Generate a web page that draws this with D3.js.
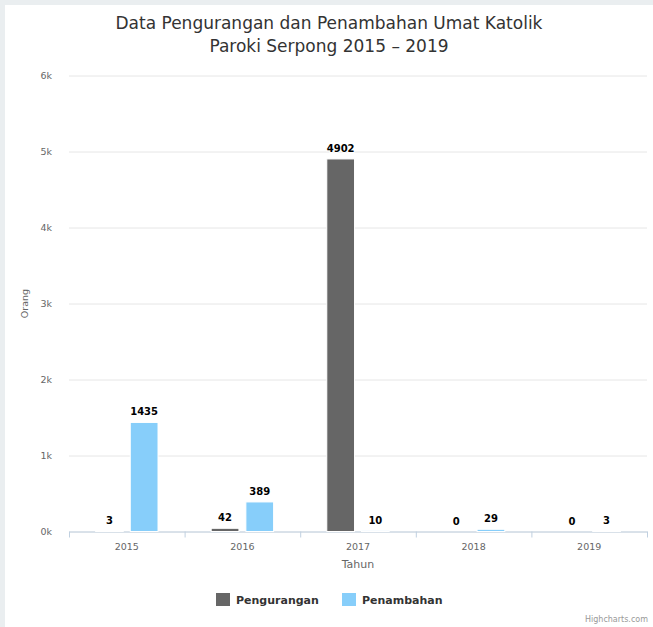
<!DOCTYPE html>
<html>
<head>
<meta charset="utf-8" />
<script src="https://cdn.jsdelivr.net/npm/d3@7"></script>
<style>
  body { margin: 0; background: #eaeef0; }
  svg { display: block; }
  text { font-family: "DejaVu Sans", sans-serif; }
</style>
</head>
<body>
<svg width="653" height="627"></svg>
<script>
var years = ["2015", "2016", "2017", "2018", "2019"];
var pengurangan = [3, 42, 4902, 0, 0];
var penambahan = [1435, 389, 10, 29, 3];
var yTicks = [0, 1000, 2000, 3000, 4000, 5000, 6000];
var seriesNames = ["Pengurangan", "Penambahan"];
var colors = ["#666666", "#87cefa"];

var svg = d3.select("svg");

// white chart panel
svg.append("rect").attr("x", 5).attr("y", 5).attr("width", 648).attr("height", 622).attr("fill", "#fff");

var margin = {left: 69, right: 6, top: 75.5, bottom: 95.5};
var width = 653 - margin.left - margin.right,
    height = 627 - margin.top - margin.bottom;

var x = d3.scaleBand().domain(years).range([0, width]);
var xs = d3.scaleBand().domain([0, 1]).range([0, x.bandwidth()]).paddingInner(0.2).paddingOuter(0.4);
// highcharts-like: groupPadding .2, pointPadding .1
var group = x.bandwidth() * 0.6, slot = group / 2;
var y = d3.scaleLinear().domain([0, 6000]).range([height, 0]);

var g = svg.append("g").attr("transform", "translate(" + margin.left + "," + margin.top + ")");

// grid
g.append("g")
    .call(d3.axisLeft(y).tickValues(yTicks).tickSize(-width).tickFormat(function(d) { return (d / 1000) + "k"; }))
    .call(function(a) {
      a.select(".domain").remove();
      a.selectAll("line").attr("stroke", "#e6e6e6");
      a.selectAll("text").attr("x", -17).attr("dy", "0.32em").attr("fill", "#666").attr("font-size", 9.5).attr("text-anchor", "end");
    });

// x axis
g.append("g")
    .attr("transform", "translate(0," + height + ")")
    .call(d3.axisBottom(x).tickSize(0).tickPadding(12))
    .call(function(a) {
      a.select(".domain").attr("stroke", "#c0d0e0");
      a.selectAll("text").attr("fill", "#666").attr("font-size", 9.5);
    });
g.append("g").selectAll("line")
    .data(years.concat(["end"]))
    .enter().append("line")
    .attr("x1", function(d, i) { return i * x.step() + 0.5; })
    .attr("x2", function(d, i) { return i * x.step() + 0.5; })
    .attr("y1", height).attr("y2", height + 6)
    .attr("stroke", "#c0d0e0");

var series = [pengurangan, penambahan];
series.forEach(function(vals, si) {
  var bx = function(i) {
    return x(years[i]) + x.bandwidth() * 0.2 + si * slot + slot * 0.1;
  };
  var bw = slot * 0.8;
  g.append("g").selectAll("rect")
    .data(vals)
    .enter().append("rect")
    .attr("x", function(d, i) { return bx(i); })
    .attr("y", function(d) { return y(d); })
    .attr("width", bw)
    .attr("height", function(d) { return height - y(d); })
    .attr("fill", colors[si])
    .attr("stroke", "#fff")
    .attr("stroke-width", 1);
  g.append("g").selectAll("text")
    .data(vals)
    .enter().append("text")
    .attr("x", function(d, i) { return bx(i) + bw / 2; })
    .attr("y", function(d) { return y(d) - 7; })
    .attr("text-anchor", "middle")
    .attr("font-size", 10)
    .attr("font-weight", "bold")
    .attr("fill", "#000")
    .attr("stroke", "#fff").attr("stroke-width", 2).attr("paint-order", "stroke")
    .text(function(d) { return d; });
});

// titles
var title = svg.append("text").attr("text-anchor", "middle").attr("fill", "#333").attr("font-size", 17);
title.append("tspan").attr("x", 329).attr("y", 29).text("Data Pengurangan dan Penambahan Umat Katolik");
title.append("tspan").attr("x", 329).attr("y", 52).text("Paroki Serpong 2015 \u2013 2019");

svg.append("text")
    .attr("transform", "translate(28," + (margin.top + height / 2) + ") rotate(-90)")
    .attr("text-anchor", "middle").attr("fill", "#666").attr("font-size", 9.5)
    .text("Orang");

svg.append("text")
    .attr("x", margin.left + width / 2).attr("y", 568)
    .attr("text-anchor", "middle").attr("fill", "#666").attr("font-size", 11)
    .text("Tahun");

// legend
var legend = svg.append("g").attr("transform", "translate(216,593)");
var lx = [0, 126];
seriesNames.forEach(function(n, i) {
  legend.append("rect").attr("x", lx[i]).attr("y", 0).attr("width", 14).attr("height", 13).attr("fill", colors[i]);
  legend.append("text").attr("x", lx[i] + 20).attr("y", 11)
      .attr("font-size", 11).attr("font-weight", "bold").attr("fill", "#333").text(n);
});

svg.append("text").attr("x", 648).attr("y", 622).attr("text-anchor", "end")
    .attr("font-size", 8).attr("fill", "#999").text("Highcharts.com");
</script>
</body>
</html>
